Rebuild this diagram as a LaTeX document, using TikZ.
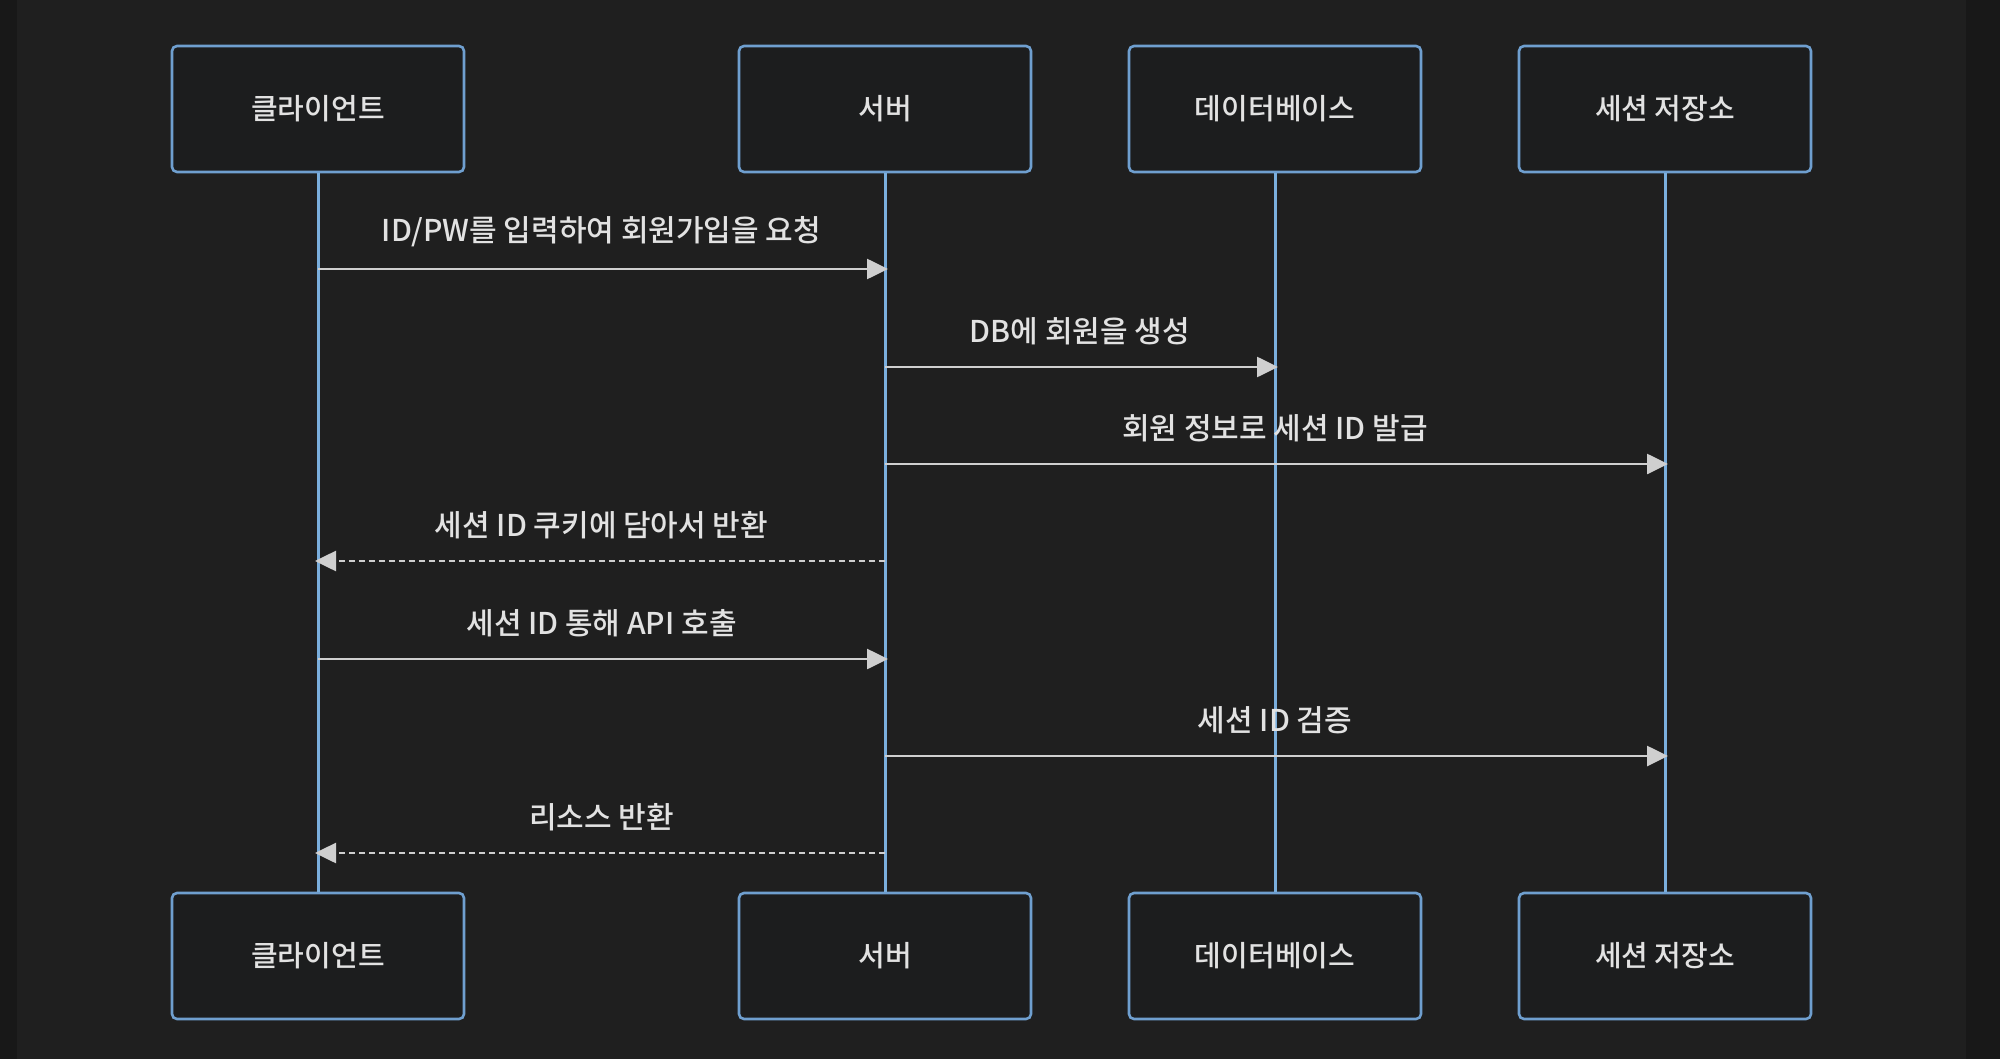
\documentclass[tikz,border=0pt]{standalone}
\usepackage{fontspec}
\newfontfamily\kr{Noto Sans CJK KR}[UprightFont={* Medium}]
\usetikzlibrary{arrows.meta}
\definecolor{outerbg}{HTML}{181818}
\definecolor{mainbg}{HTML}{1F1F1F}
\definecolor{boxfill}{HTML}{1C1D1E}
\definecolor{boxline}{HTML}{6F9FCF}
\definecolor{lifeline}{HTML}{7AAEDD}
\definecolor{msgline}{HTML}{CFCFCF}
\definecolor{txt}{HTML}{E2E2E2}
\tikzset{
  actor/.style={draw=boxline, line width=1.3pt, fill=boxfill, rounded corners=2.5pt,
    minimum width=146pt, minimum height=63pt, inner sep=0pt,
    font=\kr\fontsize{14.5}{17}\selectfont, text=txt},
  life/.style={draw=lifeline, line width=1.5pt},
  msg/.style={draw=msgline, line width=1.3pt, -{Triangle[length=10.5pt,width=10pt]}, shorten >=-1.5pt},
  reply/.style={msg, dash pattern=on 3pt off 2pt},
  lbl/.style={font=\kr\fontsize{15}{18}\selectfont, text=txt, inner sep=0pt}
}
\begin{document}
\begin{tikzpicture}[x=0.5pt,y=-0.5pt]
\useasboundingbox (0,0) rectangle (2000,1059);
\fill[outerbg] (0,0) rectangle (2000,1059);
\fill[mainbg] (17,0) rectangle (1966,1059);
% actors top
\node[actor] (c1) at (318,109) {클라이언트};
\node[actor] (s1) at (885,109) {서버};
\node[actor] (d1) at (1275,109) {데이터베이스};
\node[actor] (r1) at (1665,109) {세션 저장소};
% actors bottom
\node[actor] (c2) at (318,956) {클라이언트};
\node[actor] (s2) at (885,956) {서버};
\node[actor] (d2) at (1275,956) {데이터베이스};
\node[actor] (r2) at (1665,956) {세션 저장소};
% lifelines
\draw[life] (c1.south) -- (c2.north);
\draw[life] (s1.south) -- (s2.north);
\draw[life] (d1.south) -- (d2.north);
\draw[life] (r1.south) -- (r2.north);
% message anchors
\foreach \n/\y in {1/269,2/367,3/464,4/561,5/659,6/756,7/853}{
  \coordinate (c\n) at (318,\y);
  \coordinate (s\n) at (885,\y);
  \coordinate (d\n) at (1275,\y);
  \coordinate (r\n) at (1665,\y);
}
\draw[msg] (c1) -- (s1) node[lbl, midway, above=10.5pt] (m1) {ID/PW를 입력하여 회원가입을 요청};
\draw[msg] (s2) -- (d2) node[lbl, midway, above=10.5pt] (m2) {DB에 회원을 생성};
\draw[msg] (s3) -- (r3) node[lbl, midway, above=10.5pt] (m3) {회원 정보로 세션 ID 발급};
\draw[reply] (s4) -- (c4) node[lbl, midway, above=10.5pt] (m4) {세션 ID 쿠키에 담아서 반환};
\draw[msg] (c5) -- (s5) node[lbl, midway, above=10.5pt] (m5) {세션 ID 통해 API 호출};
\draw[msg] (s6) -- (r6) node[lbl, midway, above=10.5pt] (m6) {세션 ID 검증};
\draw[reply] (s7) -- (c7) node[lbl, midway, above=10.5pt] (m7) {리소스 반환};
\end{tikzpicture}
\end{document}
